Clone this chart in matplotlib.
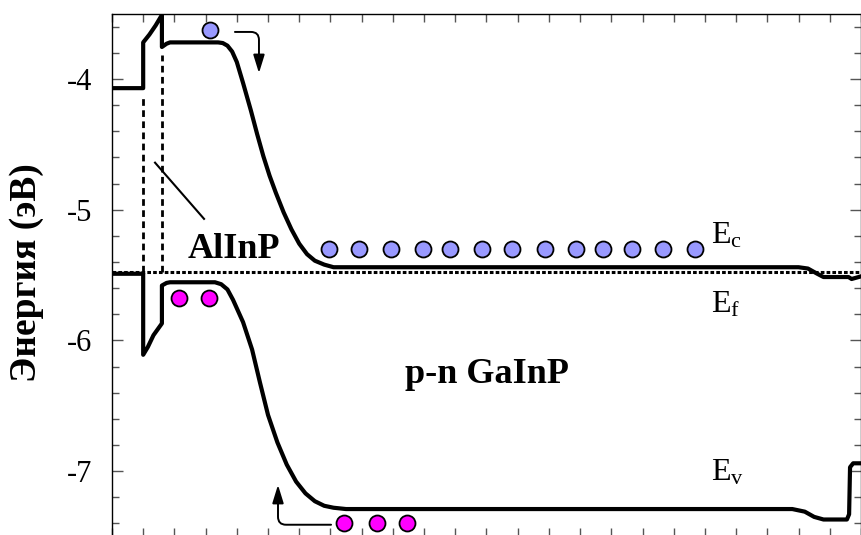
import matplotlib.pyplot as plt
from matplotlib.ticker import MultipleLocator, NullFormatter

# --- band edges (x in arbitrary depth units, E in eV) ---
ec_x = [0, 1.0, 1.0, 1.2, 1.4, 1.6, 1.6, 1.75, 1.86, 3.4, 3.55, 3.7, 3.85, 4.0,
        4.2, 4.45, 4.65, 4.85, 5.05, 5.25, 5.5, 5.75, 6.0, 6.25, 6.5, 6.8, 7.1,
        7.6, 22.0, 22.3, 22.6, 22.8, 23.6, 23.7, 24.0]
ec_e = [-4.07, -4.07, -3.72, -3.66, -3.59, -3.51, -3.755, -3.73, -3.72, -3.72,
        -3.725, -3.745, -3.79, -3.87, -4.03, -4.24, -4.42, -4.59, -4.74, -4.87,
        -5.02, -5.15, -5.26, -5.34, -5.39, -5.42, -5.44, -5.44, -5.44, -5.45,
        -5.49, -5.515, -5.515, -5.53, -5.51]

ev_x = [0, 1.0, 1.0, 1.15, 1.33, 1.6, 1.6, 1.75, 1.86, 3.3, 3.5, 3.7, 3.88, 4.2,
        4.49, 4.74, 5.0, 5.3, 5.6, 5.9, 6.2, 6.5, 6.8, 7.1, 7.5, 21.8, 22.2,
        22.5, 22.8, 23.55, 23.62, 23.65, 23.75, 24.0]
ev_e = [-5.49, -5.49, -6.11, -6.05, -5.96, -5.87, -5.58, -5.56, -5.555, -5.555,
        -5.57, -5.61, -5.69, -5.86, -6.07, -6.32, -6.57, -6.78, -6.95, -7.08,
        -7.17, -7.23, -7.265, -7.28, -7.29, -7.29, -7.31, -7.35, -7.37, -7.37,
        -7.33, -6.97, -6.94, -6.94]

ef_level = -5.48
iface_x = [1.0, 1.6]
iface_top = [-4.14, -3.82]

# carriers
el_x = [3.14, 6.96, 7.93, 8.94, 9.98, 10.83, 11.85, 12.83, 13.86, 14.87,
        15.75, 16.66, 17.67, 18.69]
el_e = [-3.625] + [-5.30] * 13
hole_x = [2.15, 3.11, 7.44, 8.49, 9.46]
hole_e = [-5.675, -5.675, -7.40, -7.40, -7.40]

SERIF = "Liberation Serif"
plt.rcParams.update({
    "font.family": SERIF,
    "mathtext.fontset": "custom",
    "mathtext.rm": SERIF,
    "mathtext.it": SERIF + ":italic",
    "axes.unicode_minus": False,
})

fig = plt.figure(figsize=(8.62, 5.35), dpi=100)
ax = fig.add_axes([0.1299, -0.0028, 0.8689, 0.9773])

ax.plot(ec_x, ec_e, color="black", lw=3, solid_joinstyle="round", zorder=3)
ax.plot(ev_x, ev_e, color="black", lw=3, solid_joinstyle="round", zorder=3)
ax.axhline(ef_level, color="black", lw=2.2, linestyle=(0, (1.2, 0.7)), zorder=2)
for x, top in zip(iface_x, iface_top):
    ax.plot([x, x], [ef_level, top], color="black", lw=2.0,
            linestyle=(0, (2.4, 1.6)), zorder=2)

ax.plot(el_x, el_e, "o", ms=11.5, mfc="#9999ff", mec="black", mew=1.3, zorder=5)
ax.plot(hole_x, hole_e, "o", ms=11.5, mfc="#ff00ff", mec="black", mew=1.3, zorder=5)

arrow = dict(arrowstyle="-|>,head_length=0.55,head_width=0.17", color="black",
             lw=1.4, mutation_scale=20, shrinkA=0, shrinkB=0,
             connectionstyle="angle,angleA=0,angleB=90,rad=8")
ax.annotate("", xy=(4.71, -3.955), xytext=(3.94, -3.64), arrowprops=arrow)
ax.annotate("", xy=(5.32, -7.105), xytext=(7.02, -7.41), arrowprops=arrow)

ax.plot([1.38, 2.95], [-4.64, -5.07], color="black", lw=1.5)

ax.text(2.44, -5.37, "AlInP", fontsize=26, fontweight="bold")
ax.text(9.39, -6.326, "p-n GaInP", fontsize=26, fontweight="bold")
ax.text(19.2, -5.255, r"$\mathrm{E_c}$", fontsize=23)
ax.text(19.2, -5.79, r"$\mathrm{E_f}$", fontsize=23)
ax.text(19.2, -7.07, r"$\mathrm{E_v}$", fontsize=23)

ax.set_xlim(0, 24)
ax.set_ylim(-7.5, -3.5)
ax.xaxis.set_major_locator(MultipleLocator(1))
ax.xaxis.set_major_formatter(NullFormatter())
ax.yaxis.set_major_locator(MultipleLocator(1))
ax.yaxis.set_minor_locator(MultipleLocator(0.2))
ax.tick_params(axis="both", which="both", direction="in", top=True, right=True,
               color="#555555", width=1)
ax.tick_params(axis="x", length=6)
ax.tick_params(axis="y", which="major", length=8, labelsize=22, pad=14)
ax.tick_params(axis="y", which="minor", length=5)
for s in ax.spines.values():
    s.set_linewidth(1.0)

fig.text(27 / 862, 1 - 273 / 535, "Энергия (эВ)", rotation=90, fontsize=27,
         fontweight="bold", ha="center", va="center")

fig.savefig("out.png", dpi=100)
